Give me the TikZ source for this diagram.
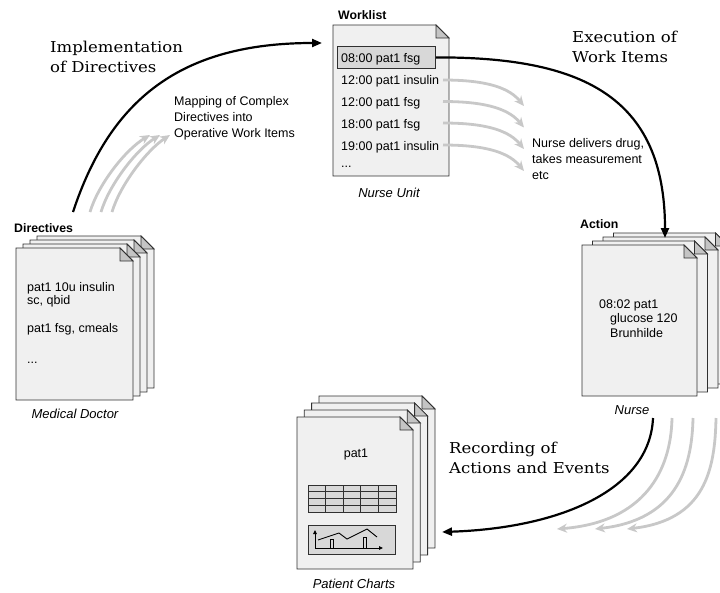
\documentclass[tikz,border=0pt]{standalone}
\usepackage{fontspec}
\setmainfont{Liberation Sans}
\newfontfamily\titlefont[FakeStretch=1.1]{DejaVu Serif}
\usetikzlibrary{arrows.meta}

\definecolor{pagefill}{HTML}{F0F0F0}
\definecolor{foldfill}{HTML}{C4C4C4}
\definecolor{hlfill}{HTML}{D8D8D8}
\definecolor{flowgray}{HTML}{C8C8C8}
\definecolor{edge}{HTML}{303030}

% one sheet of paper with a folded top-right corner: x, y (top left), width, height
\newcommand{\docpage}[4]{%
  \filldraw[sheet] (#1,#2) -- (#1+#3-13,#2) -- (#1+#3,#2+13) -- (#1+#3,#2+#4) -- (#1,#2+#4) -- cycle;
  \filldraw[sheetfold] (#1+#3-13,#2) -- (#1+#3-13,#2+13) -- (#1+#3,#2+13) -- cycle;}

\tikzset{
  sheet/.style={fill=pagefill, draw=edge, line width=0.8pt, line join=miter},
  sheetfold/.style={fill=foldfill, draw=edge, line width=0.8pt},
  txt/.style={inner sep=0pt, anchor=base west, font=\fontsize{12.5}{16}\selectfont},
  head/.style={inner sep=0pt, anchor=base west, font=\bfseries\fontsize{12.3}{16}\selectfont},
  role/.style={inner sep=0pt, anchor=base, font=\itshape\fontsize{13}{16}\selectfont},
  ttl/.style={inner sep=0pt, anchor=base west, align=left, font=\titlefont\fontsize{15}{19.5}\selectfont},
  mainflow/.style={line width=2.2pt, -{Triangle[length=10pt,width=8pt]}},
  subflow/.style={line width=2.8pt, draw=flowgray, -{Stealth[length=10pt,width=9pt]}},
  grid box/.style={fill=hlfill, draw=edge, line width=0.8pt},
  mini/.style={line width=0.9pt, draw=black},
}

\begin{document}
\begin{tikzpicture}[x=1pt, y=-1pt]
\path[use as bounding box] (0,0) rectangle (720,592);

% ---------------- Directives (medical doctor) ----------------
\docpage{37}{236}{117}{152}
\docpage{30}{240}{117}{152}
\docpage{23}{244}{117}{152}
\docpage{16}{248}{117}{152}
\node[head] (dirhead) at (14,232) {Directives};
\node[txt] (d1) at (27,291) {pat1 10u insulin};
\node[txt] (d2) at (27,304) {sc, qbid};
\node[txt] (d3) at (27,332) {pat1 fsg, cmeals};
\node[txt] (d4) at (27,363) {...};
\node[role] (doctor) at (75,418) {Medical Doctor};

% ---------------- Worklist (nurse unit) ----------------
\docpage{333}{25}{116}{151}
\node[head] (wlhead) at (338,19.5) {Worklist};
\node[grid box, minimum width=98pt, minimum height=22pt, inner sep=0pt, anchor=north west] (hl) at (337,46) {};
\node[txt] (w1) at (341,62.5) {08:00 pat1 fsg};
\node[txt] (w2) at (341,84.5) {12:00 pat1 insulin};
\node[txt] (w3) at (341,106) {12:00 pat1 fsg};
\node[txt] (w4) at (341,128) {18:00 pat1 fsg};
\node[txt] (w5) at (341,150) {19:00 pat1 insulin};
\node[txt] (w6) at (341,167) {...};
\node[role] (unit) at (389,197) {Nurse Unit};

% ---------------- Action (nurse) ----------------
\docpage{613.5}{233}{115}{151}
\docpage{603}{237}{115}{151}
\docpage{592.5}{241}{115}{151}
\docpage{582}{245}{115}{151}
\node[head] (acthead) at (580,228) {Action};
\node[txt] (a1) at (599,308) {08:02 pat1};
\node[txt] (a2) at (610,322.5) {glucose 120};
\node[txt] (a3) at (610,337) {Brunhilde};
\node[role] (nurse) at (632,414) {Nurse};

% ---------------- Patient charts ----------------
\docpage{319}{396}{116}{152}
\docpage{311.6}{403}{116}{152}
\docpage{304.3}{410}{116}{152}
\docpage{297}{417}{116}{152}
\node[txt, anchor=base] (chartname) at (356,457) {pat1};
% table
\filldraw[grid box] (308,485) rectangle (396,512);
\foreach \gx in {325.6,343.2,360.8,378.4} \draw[edge, line width=0.8pt] (\gx,485) -- (\gx,512);
\foreach \gy in {491.75,498.5,505.25} \draw[edge, line width=0.8pt] (308,\gy) -- (396,\gy);
% small curve plot
\filldraw[grid box] (308,525) rectangle (395,554);
\draw[mini, -{Triangle[length=4pt,width=3.5pt]}] (315,548) -- (315,530);
\draw[mini, -{Triangle[length=4pt,width=3.5pt]}] (315,548) -- (383,548);
\draw[mini] (318,540) -- (339,533) -- (347,539) -- (367,529) -- (377,537);
\draw[mini] (330,539) rectangle (333,548);
\draw[mini] (363,537) rectangle (366,548);
\node[role] (charts) at (354,588) {Patient Charts};

% ---------------- flow labels (anchored on the baseline of the last line) ----------------
\node[ttl] (implttl) at (50,72) {Implementation\\of Directives};
\node[ttl] (execttl) at (572,62) {Execution of\\Work Items};
\node[ttl] (recttl) at (449,473) {Recording of\\Actions and Events};
\node[txt, align=left] (maplbl) at (174,137) {Mapping of Complex\\Directives into\\Operative Work Items};
\node[txt, align=left] (deliverlbl) at (532,179) {Nurse delivers drug,\\takes measurement\\etc};

% ---------------- connector end points ----------------
\coordinate (implS) at (73,212);
\coordinate (implE) at (322,43);
\coordinate (mapS1) at (90,212);  \coordinate (mapE1) at (150,135);
\coordinate (mapS2) at (101,212); \coordinate (mapE2) at (160,135);
\coordinate (mapS3) at (112,212); \coordinate (mapE3) at (170,135);
\coordinate (execE) at (665,238);
\coordinate (itS1) at (443,80);    \coordinate (itE1) at (524,106);
\coordinate (itS2) at (443,101.5); \coordinate (itE2) at (524,127.5);
\coordinate (itS3) at (443,123);   \coordinate (itE3) at (524,149);
\coordinate (itS4) at (443,145);   \coordinate (itE4) at (524,171);
\coordinate (recS) at (653,418);
\coordinate (recE) at (442,532);
\coordinate (evS1) at (672,418); \coordinate (evE1) at (557,529);
\coordinate (evS2) at (693,418); \coordinate (evE2) at (595,529);
\coordinate (evS3) at (716,418); \coordinate (evE3) at (627,529);

% ---------------- connectors ----------------
% directives -> worklist
\draw[subflow] (mapS1) .. controls (98,185) and (125,150) .. (mapE1);
\draw[subflow] (mapS2) .. controls (109,185) and (136,150) .. (mapE2);
\draw[subflow] (mapS3) .. controls (120,185) and (147,150) .. (mapE3);
\draw[mainflow] (implS) .. controls (110,100) and (180,43) .. (implE);

% worklist -> actions
\foreach \k in {1,2,3,4}
  \draw[subflow] (itS\k) .. controls ([xshift=47pt]itS\k) and ([xshift=-14pt,yshift=17pt]itE\k) .. (itE\k);
\draw[mainflow] (hl.east) .. controls (580,57) and (665,95) .. (execE);

% actions -> patient charts
\draw[subflow] (evS1) .. controls (671,470) and (645,522) .. (evE1);
\draw[subflow] (evS2) .. controls (692,470) and (675,520) .. (evE2);
\draw[subflow] (evS3) .. controls (715,470) and (705,520) .. (evE3);
\draw[mainflow] (recS) .. controls (650,490) and (560,528) .. (recE);
\end{tikzpicture}
\end{document}
